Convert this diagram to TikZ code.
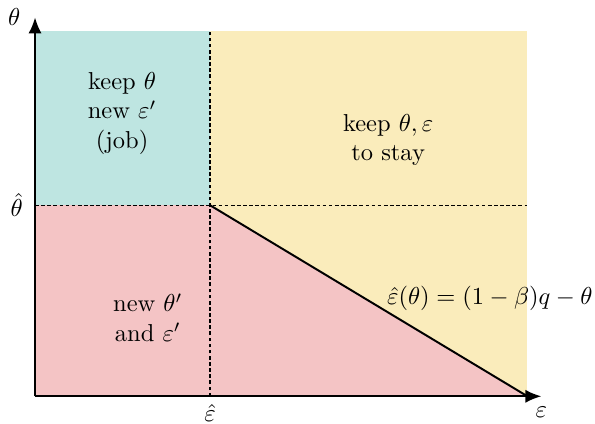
\documentclass[tikz,border=0pt]{standalone}
\usepackage{amsmath,amssymb}
\usetikzlibrary{arrows.meta,positioning}
\definecolor{jobteal}{RGB}{190,229,225}
\definecolor{stayyellow}{RGB}{250,236,187}
\definecolor{newpink}{RGB}{244,196,197}

\begin{document}
\begin{tikzpicture}[x=1cm,y=1cm,
  axis/.style={line width=0.8pt,-{Latex[length=2.3mm,width=1.9mm]}},
  cut/.style={dash pattern=on 1.5pt off 1pt,line width=0.6pt},
  region/.style={align=center}]
\useasboundingbox (-0.503,-0.388) rectangle (8.04,5.69);
% corners of the regions
\coordinate (O) at (0,0);
\coordinate (ehat) at (2.513,0);
\coordinate (that) at (0,2.743);
\coordinate (C) at (2.513,2.743);
\coordinate (R) at (7.07,0);
\coordinate (etop) at (2.513,5.24);
\coordinate (tright) at (7.07,2.743);
\coordinate (xend) at (7.27,0);
\coordinate (yend) at (0,5.44);
% regions
\fill[stayyellow] (O) rectangle (7.07,5.24);
\fill[jobteal] (that) rectangle (etop);
\fill[newpink] (O) rectangle (C);
\fill[newpink] (C) -- (R) -- (ehat) -- cycle;
% cut-offs
\draw[cut] (ehat) -- (etop);
\draw[cut] (that) -- (tright);
\draw[line width=0.8pt] (C) -- (R);
% axes
\draw[axis] (O) -- (xend);
\draw[axis] (O) -- (yend);
\node[left=2.5pt] (ylab) at (yend) {$\theta$};
\node[below=1pt] (xlab) at (xend) {$\varepsilon$};
\node[left=1.5pt] (tlab) at (that) {$\hat\theta$};
\node[below] (elab) at (ehat) {$\hat\varepsilon$};
% labels of the regions
\node[region] (job) at (1.25,4.06) {keep $\theta$\\new $\varepsilon'$\\(job)};
\node[region] (stay) at (5.07,3.68) {keep $\theta,\varepsilon$\\to stay};
\node[region] (redraw) at (1.62,1.13) {new $\theta'$\\and $\varepsilon'$};
\node (curve) at (6.53,1.41) {$\hat\varepsilon(\theta)=(1-\beta)q-\theta$};
\end{tikzpicture}
\end{document}
